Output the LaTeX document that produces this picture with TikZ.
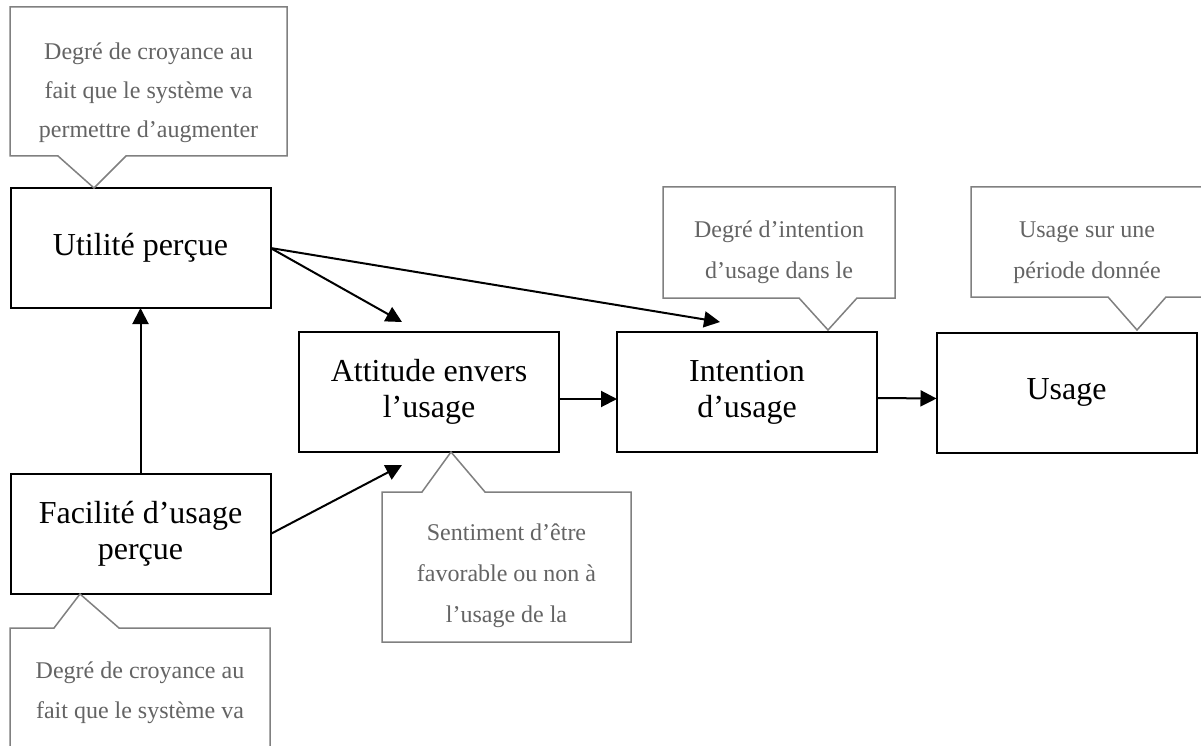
\documentclass[tikz,border=0pt]{standalone}
\usepackage{fontspec}
\setmainfont{Liberation Serif}
\usetikzlibrary{arrows.meta}
\definecolor{calloutline}{RGB}{128,128,128}
\definecolor{callouttext}{RGB}{100,100,100}
\newcommand\cstrut{\rule{0pt}{18pt}}
\tikzset{
  mainbox/.style={draw=black, line width=2pt, minimum width=260pt, minimum height=120pt,
    inner sep=0pt, outer sep=0pt, align=center, font=\fontsize{32}{36}\selectfont},
  calloutshape/.style={draw=calloutline, line width=1.5pt, line join=miter},
  callouttxt/.style={anchor=north, inner sep=0pt, align=center, text=callouttext},
  arr/.style={draw=black, line width=2pt, -{Triangle[length=16pt,width=16pt]}}
}
\begin{document}
\begin{tikzpicture}[x=1pt,y=-1pt]
\clip (0,0) rectangle (1201,746);
\fill[white] (0,0) rectangle (1201,746);

% main boxes
\node[mainbox] (U) at (140.5,248) {Utilité perçue};
\node[mainbox] (F) at (140.5,534) {Facilité d’usage\\perçue};
\node[mainbox] (A) at (429,392) {Attitude envers\\l’usage};
\node[mainbox] (I) at (747,392) {Intention\\d’usage};
\node[mainbox] (S) at (1066.5,392.5) {Usage};

% callout outlines
\draw[calloutshape] (10,7) -- (287,7) -- (287,156) -- (126,156) -- (94,188) -- (58,156) -- (10,156) -- cycle;
\draw[calloutshape] (663,187) -- (895,187) -- (895,298) -- (857,298) -- (828,330) -- (799,298) -- (663,298) -- cycle;
\draw[calloutshape] (1210,187) -- (971,187) -- (971,297) -- (1108,297) -- (1137,330) -- (1166,297) -- (1210,297);
\draw[calloutshape] (382,492) -- (422,492) -- (451,452) -- (485,492) -- (631,492) -- (631,642) -- (382,642) -- cycle;
\draw[calloutshape] (10,760) -- (10,628) -- (54,628) -- (80,594) -- (119,628) -- (270,628) -- (270,760);

% callout texts
\node[callouttxt, font=\fontsize{24}{39}\selectfont] (tU) at (148.5,41)
  {\cstrut Degré de croyance au\\fait que le système va\\permettre d’augmenter};
\node[callouttxt, font=\fontsize{24}{41}\selectfont] (tI) at (779,219)
  {\cstrut Degré d’intention\\d’usage dans le};
\node[callouttxt, font=\fontsize{24}{41}\selectfont] (tS) at (1087,219)
  {\cstrut Usage sur une\\période donnée};
\node[callouttxt, font=\fontsize{24}{41}\selectfont] (tA) at (506.5,522)
  {\cstrut Sentiment d’être\\favorable ou non à\\l’usage de la};
\node[callouttxt, font=\fontsize{24}{40}\selectfont] (tF) at (140,660)
  {\cstrut Degré de croyance au\\fait que le système va};

% arrow end points
\coordinate (pA1) at (402,322);
\coordinate (pI1) at (720,322);
\coordinate (pA2) at (402,465);

% connectors
\draw[arr] (F.north) -- (U.south);
\draw[arr] (U.east) -- (pA1);
\draw[arr] (U.east) -- (pI1);
\draw[arr] (F.east) -- (pA2);
\draw[arr] ([yshift=-7pt]A.east) -- ([yshift=-7pt]I.west);
\draw[arr] ([yshift=-6pt]I.east) -- ([yshift=-6pt]S.west);
\end{tikzpicture}
\end{document}
